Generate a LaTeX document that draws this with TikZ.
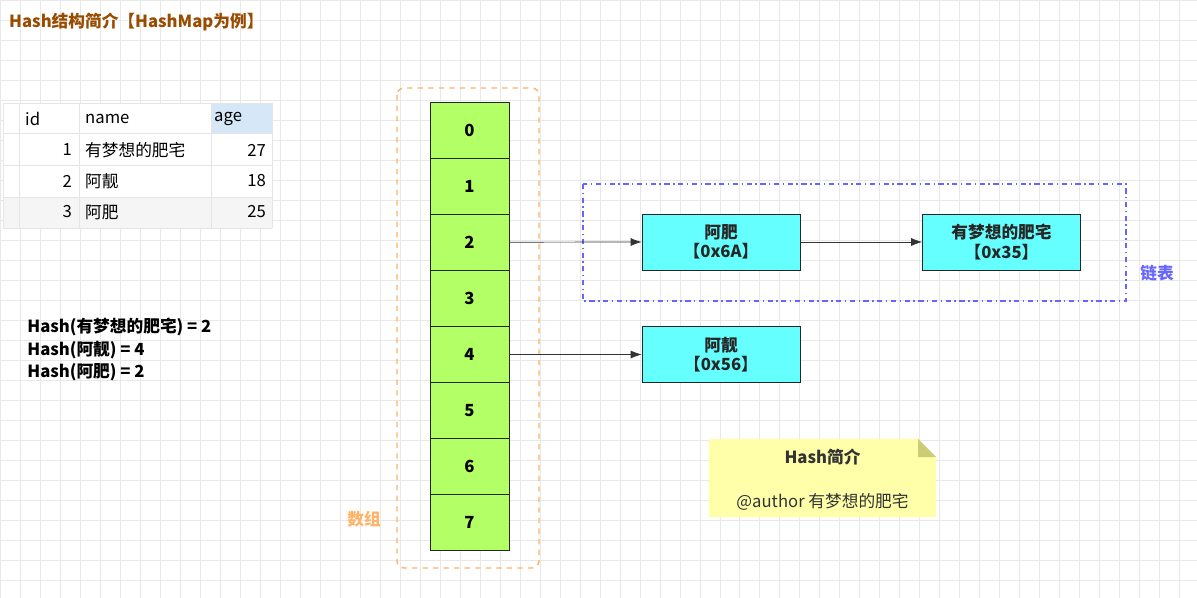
\documentclass[tikz,border=0pt]{standalone}
\usepackage{fontspec}
\setmainfont{Noto Sans CJK SC}
\usepackage{tikz}
\usetikzlibrary{arrows.meta, positioning}
\definecolor{cellgreen}{RGB}{179, 255, 102}
\definecolor{nodecyan}{RGB}{102, 255, 255}
\definecolor{arrayorange}{RGB}{255, 179, 102}
\definecolor{listblue}{RGB}{102, 102, 255}
\definecolor{titlebrown}{RGB}{153, 76, 0}
\definecolor{notebg}{RGB}{255, 255, 170}
\definecolor{notefold}{RGB}{204, 204, 119}
\definecolor{gridgray}{RGB}{232, 232, 232}
\definecolor{headblue}{RGB}{214, 232, 248}

\tikzset{
    txt/.style={font=\fontsize{9.5}{11}\selectfont},
    btxt/.style={font=\fontsize{9.5}{11}\selectfont\bfseries},
    cell/.style={draw=black!85, fill=cellgreen, minimum width=1.58cm, minimum height=1.12cm, inner sep=0pt, btxt},
    item/.style={draw=black!85, fill=nodecyan, minimum width=3.16cm, minimum height=1.12cm, inner sep=0pt, align=center, btxt, text=black!85},
    link/.style={-{Latex[length=2.2mm, width=1.6mm]}, black!80},
}

\begin{document}
\begin{tikzpicture}[x=0.02cm, y=-0.02cm]
    \useasboundingbox (0,0) rectangle (1197,598);
    % 背景网格
    \fill[white] (0,0) rectangle (1197,598);
    \draw[gridgray, step=0.4cm] (0,0) grid (1197,598);

    % 标题
    \node[anchor=west, text=titlebrown, btxt] (title) at (3,22) {Hash结构简介【HashMap为例】};

    % 表格
    \fill[white] (3,103) rectangle (272,228);
    \fill[headblue] (211,103) rectangle (272,133);
    \fill[black!4] (3,197) rectangle (272,228);
    \foreach \y in {103,133,165,197,228}
        \draw[black!10] (3,\y) -- (272,\y);
    \foreach \x in {3,19,79,211,272}
        \draw[black!10] (\x,103) -- (\x,228);
    \node[anchor=west, txt] (hid) at (19,119) {id};
    \node[anchor=west, txt] (hname) at (79,119) {name};
    \node[anchor=west, txt] (hage) at (208,119) {age};
    \foreach \i/\n/\a [count=\k] in {1/有梦想的肥宅/27, 2/阿靓/18, 3/阿肥/25} {
        \node[anchor=east, txt] (id\k) at (78,{150+(\k-1)*31}) {\i};
        \node[anchor=west, txt] (name\k) at (79,{150+(\k-1)*31}) {\n};
        \node[anchor=east, txt] (age\k) at (272,{150+(\k-1)*31}) {\a};
    }

    % 哈希值
    \node[anchor=west, btxt, inner sep=0pt] (hash1) at (27,327) {Hash(有梦想的肥宅) = 2};
    \node[anchor=west, btxt, inner sep=0pt] (hash2) at (27,350) {Hash(阿靓) = 4};
    \node[anchor=west, btxt, inner sep=0pt] (hash3) at (27,372) {Hash(阿肥) = 2};

    % 数组
    \draw[arrayorange, thick, dashed, rounded corners=4pt] (397,88) rectangle (539,568);
    \foreach \i in {0,...,7}
        \node[cell] (c\i) at (469.5,{130+\i*56.1}) {\i};
    \node[text=arrayorange, btxt] (arrlabel) at (364,519) {数组};

    % 链表
    \draw[listblue, thick, dash dot] (583,184) rectangle (1126,301);
    \node[text=listblue, btxt] (listlabel) at (1157,273) {链表};
    \node[item] (fei) at (721,242) {阿肥\\【0x6A】};
    \node[item] (zhai) at (1001.5,242) {有梦想的肥宅\\【0x35】};
    \node[item] (liang) at (721,354.5) {阿靓\\【0x56】};
    \draw[link] (c2.east) -- (fei.west);
    \draw[link] (fei.east) -- (zhai.west);
    \draw[link] (c4.east) -- (liang.west);

    % 注释
    \fill[notebg] (709,439) -- (918,439) -- (936,457) -- (936,517) -- (709,517) -- cycle;
    \fill[notefold] (918,439) -- (936,457) -- (918,457) -- cycle;
    \node[btxt, text=black!80] (notetitle) at (822.5,457) {Hash简介};
    \node[txt, text=black!80] (noteauthor) at (822.5,502) {@author 有梦想的肥宅};
\end{tikzpicture}
\end{document}
